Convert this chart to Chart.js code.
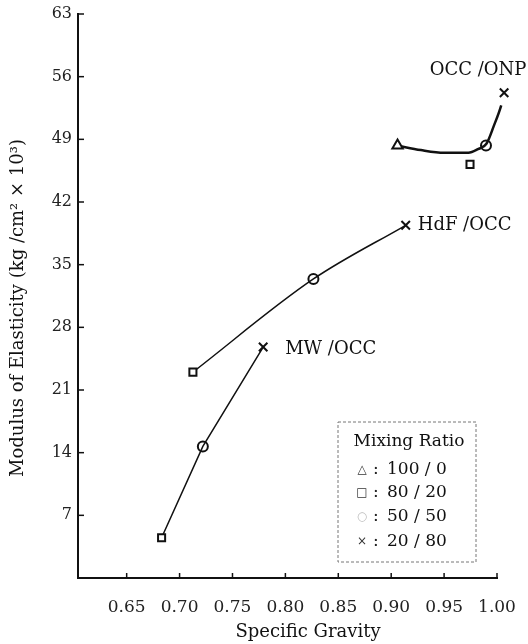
<!DOCTYPE html>
<html><head><meta charset="utf-8">
<script src="https://cdn.jsdelivr.net/npm/chart.js@4"></script>
<style>html,body{margin:0;padding:0;background:#fff}#wrap{width:528px;height:644px;position:relative}</style>
</head><body><div id="wrap"><canvas id="c"></canvas></div>
<script>
// ---- data ----
const xTickValues = [0.65, 0.70, 0.75, 0.80, 0.85, 0.90, 0.95, 1.00];
const xTickLabels = ['0.65', '0.70', '0.75', '0.80', '0.85', '0.90', '0.95', '1.00'];
const yTickValues = [7, 14, 21, 28, 35, 42, 49, 56, 63];
const yTickLabels = ['7', '14', '21', '28', '35', '42', '49', '56', '63'];

const seriesLabels = ['MW /OCC', 'HdF /OCC', 'OCC /ONP'];
// fitted curves (as drawn)
const mwCurveX  = [0.683, 0.722, 0.779];
const mwCurveY  = [4.5, 14.7, 25.8];
const hdfCurveX = [0.7126, 0.8265, 0.9137];
const hdfCurveY = [23.0, 33.4, 39.4];
const occCurveX = [0.906, 0.928, 0.950, 0.973, 0.982, 0.990, 0.997, 1.004, 1.007];
const occCurveY = [48.3, 47.8, 47.5, 47.5, 47.9, 48.5, 50.5, 52.8, 54.2];

// measured points by mixing ratio
const ratioTitle = 'Mixing Ratio';
const ratioLabels = ['100 / 0', '80 / 20', '50 / 50', '20 / 80'];
const ratioSymbols = ['\u25B3', '\u25A1', '\u25CB', '\u00D7'];
const r100X = [0.906];                 const r100Y = [48.3];
const r80X  = [0.683, 0.7126, 0.9745]; const r80Y  = [4.5, 23.0, 46.2];
const r50X  = [0.722, 0.8265, 0.9896]; const r50Y  = [14.7, 33.4, 48.3];
const r20X  = [0.779, 0.9137, 1.0067]; const r20Y  = [25.8, 39.4, 54.2];

const xTitle = 'Specific Gravity';
const yTitle = 'Modulus of Elasticity (kg /cm\u00B2 \u00D7 10\u00B3)';

// ---- build ----
const pts = (xs, ys) => xs.map((x, i) => ({x: x, y: ys[i]}));
const SERIF = '"DejaVu Serif", "Liberation Serif", serif';

const lineDs = (label, xs, ys, w, mode) => ({
  type: 'line', label: label, data: pts(xs, ys), borderColor: '#111', borderWidth: w,
  pointRadius: 0, tension: mode === 'straight' ? 0 : 0.4,
  cubicInterpolationMode: mode === 'straight' ? 'default' : 'monotone',
  fill: false, clip: false, order: 2
});
const markDs = (label, xs, ys, style, r, bg) => ({
  type: 'scatter', label: label, data: pts(xs, ys), pointStyle: style, pointRadius: r,
  pointBorderColor: '#111', pointBackgroundColor: bg, pointBorderWidth: 2, showLine: false, clip: false, order: 1
});

const labelPlugin = {
  id: 'extras',
  afterDraw(chart) {
    const ctx = chart.ctx, xs = chart.scales.x, ys = chart.scales.y;
    ctx.save();
    ctx.strokeStyle = '#111'; ctx.lineWidth = 1.5;
    // inward tick marks
    xs.ticks.forEach(t => { const p = xs.getPixelForValue(t.value);
      ctx.beginPath(); ctx.moveTo(p, xs.top); ctx.lineTo(p, xs.top - 5); ctx.stroke(); });
    ys.ticks.forEach(t => { const p = ys.getPixelForValue(t.value);
      ctx.beginPath(); ctx.moveTo(ys.right, p); ctx.lineTo(ys.right + 6, p); ctx.stroke(); });
    ctx.fillStyle = '#111';
    // series labels
    ctx.font = '18px ' + SERIF; ctx.textBaseline = 'middle'; ctx.textAlign = 'left';
    ctx.fillText(seriesLabels[0], xs.getPixelForValue(mwCurveX[2]) + 22, ys.getPixelForValue(mwCurveY[2]) + 2);
    ctx.fillText(seriesLabels[1], xs.getPixelForValue(hdfCurveX[2]) + 12, ys.getPixelForValue(hdfCurveY[2]));
    ctx.textAlign = 'right';
    ctx.fillText(seriesLabels[2], xs.getPixelForValue(occCurveX[8]) + 22, ys.getPixelForValue(occCurveY[8]) - 22);
    // axis titles
    ctx.font = '18px ' + SERIF; ctx.textAlign = 'center';
    ctx.fillText(xTitle, 308, 632);
    ctx.save(); ctx.translate(18, 308); ctx.rotate(-Math.PI / 2);
    ctx.font = '18px ' + SERIF; ctx.fillText(yTitle, 0, 0); ctx.restore();
    // legend box
    const bx = 338, by = 422, bw = 138, bh = 140;
    ctx.setLineDash([3, 2]); ctx.lineWidth = 1; ctx.strokeStyle = '#777';
    ctx.strokeRect(bx, by, bw, bh); ctx.setLineDash([]);
    ctx.font = '17px ' + SERIF; ctx.textAlign = 'center';
    ctx.fillText(ratioTitle, bx + bw / 2 + 2, by + 20);
    const rowsY = [470, 493, 517, 542];
    ratioLabels.forEach((lab, i) => {
      ctx.textAlign = 'center'; ctx.font = '12px ' + SERIF;
      ctx.fillStyle = i === 2 ? '#bbb' : '#333';
      ctx.fillText(ratioSymbols[i], 362, rowsY[i]);
      ctx.fillStyle = '#111'; ctx.font = '17px ' + SERIF; ctx.textAlign = 'left';
      ctx.fillText(':', 373, rowsY[i]);
      ctx.fillText(lab, 387, rowsY[i]);
    });
    ctx.restore();
  }
};

new Chart(document.getElementById('c'), {
  data: {
    datasets: [
      markDs(ratioLabels[0], r100X, r100Y, 'triangle', 6, '#fff'),
      markDs(ratioLabels[1], r80X, r80Y, 'rect', 5, '#fff'),
      markDs(ratioLabels[2], r50X, r50Y, 'circle', 5, 'rgba(0,0,0,0)'),
      markDs(ratioLabels[3], r20X, r20Y, 'crossRot', 6, '#fff'),
      lineDs(seriesLabels[0], mwCurveX, mwCurveY, 1.5, 'straight'),
      lineDs(seriesLabels[1], hdfCurveX, hdfCurveY, 1.5, 'smooth'),
      lineDs(seriesLabels[2], occCurveX, occCurveY, 2.5, 'smooth')
    ]
  },
  options: {
    responsive: true, maintainAspectRatio: false, animation: false,
    layout: {padding: {top: 14, right: 31, left: 0, bottom: 0}},
    plugins: {legend: {display: false}, tooltip: {enabled: false}},
    scales: {
      x: {
        type: 'linear', min: 0.604, max: 1.0,
        afterBuildTicks: s => { s.ticks = xTickValues.map(v => ({value: v})); },
        afterFit: s => { s.height = 66; s.paddingRight = 0; s.paddingLeft = 0; },
        grid: {display: true, drawOnChartArea: false, drawTicks: false},
        border: {display: true, color: '#111', width: 2},
        ticks: {padding: 19, font: {family: SERIF, size: 17}, color: '#222', maxRotation: 0, autoSkip: false,
          callback: (v) => { const i = xTickValues.findIndex(t => Math.abs(t - v) < 1e-6); return i >= 0 ? xTickLabels[i] : ''; }}
      },
      y: {
        type: 'linear', min: 0, max: 63,
        afterBuildTicks: s => { s.ticks = yTickValues.map(v => ({value: v})); },
        afterFit: s => { s.width = 78; s.paddingTop = 0; s.paddingBottom = 0; },
        grid: {display: true, drawOnChartArea: false, drawTicks: false},
        border: {display: true, color: '#111', width: 2},
        ticks: {padding: 6, font: {family: SERIF, size: 16}, color: '#222', autoSkip: false,
          callback: (v) => { const i = yTickValues.indexOf(v); return i >= 0 ? yTickLabels[i] : ''; }}
      }
    }
  },
  plugins: [labelPlugin]
});
</script></body></html>
